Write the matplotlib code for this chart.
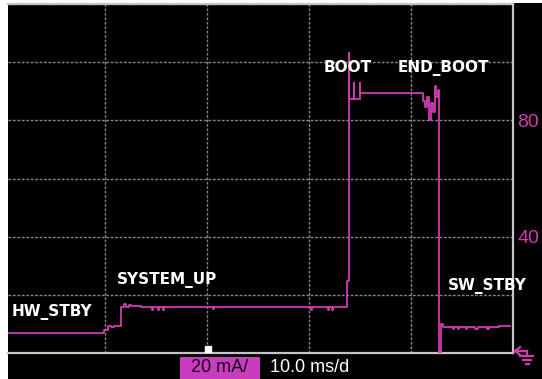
import matplotlib
matplotlib.use("Agg")
import matplotlib.pyplot as plt
from matplotlib.patches import Rectangle
from matplotlib.lines import Line2D

# supply current capture, 10 ms/div, 20 mA/div
time_ms = [0.5, 9.9, 10.3, 10.6, 10.9, 11.57, 11.9, 12.1, 12.4, 12.6, 13.5,
           14.6, 14.7, 15.2, 15.3, 15.7, 15.8, 20.6, 20.7, 30.2, 30.3, 31.9,
           32.0, 32.3, 32.4, 33.73, 33.92, 33.97, 34.4, 34.45, 35.0, 35.05,
           41.18, 41.4, 41.6, 41.8, 42.0, 42.2, 42.35, 42.45, 42.6, 42.78,
           42.95, 43.15, 44.1, 44.2, 44.6, 44.7, 45.4, 45.5, 46.3, 46.6,
           47.5, 47.6, 48.6, 49.7]
current_ma = [6.9, 8.0, 9.4, 8.9, 9.4, 15.8, 16.8, 15.8, 16.6, 16.1, 15.8,
              14.9, 15.8, 14.9, 15.8, 14.9, 15.8, 15.0, 15.8, 14.9, 15.8, 14.9,
              15.8, 14.9, 15.8, 24.8, 103.0, 87.3, 92.8, 87.3, 92.8, 89.4,
              86.5, 84.6, 88.0, 80.1, 86.0, 83.0, 91.8, 88.0, 90.5, 0.0,
              9.8, 8.9, 8.2, 8.9, 8.2, 8.9, 8.2, 8.9, 8.2, 8.9,
              8.2, 8.9, 9.3, 9.3]

states = ["HW_STBY", "SYSTEM_UP", "BOOT", "END_BOOT", "SW_STBY"]
state_t = [0.9, 11.2, 31.4, 38.7, 43.6]
state_ma = [14.0, 25.0, 98.0, 98.0, 23.0]

y_labels = {40: "40", 80: "80"}

pink = "#d03cb0"
grid_c = "#8a828a"
frame_c = "#c9c3c9"

W, H = 542, 379
fig = plt.figure(figsize=(W / 100, H / 100), dpi=100, facecolor="white")

def fx(px):
    return px / W

def fy(py):
    return 1 - py / H

# black screen area
fig.add_artist(Rectangle((fx(8), 0), 1 - fx(8), fy(3), transform=fig.transFigure,
                         facecolor="black", edgecolor="none", zorder=0))

ax = fig.add_axes([fx(8), fy(353), fx(513) - fx(8), fy(4) - fy(353)])
ax.set_facecolor("black")
ax.set_xlim(0.5, 50)
ax.set_ylim(0, 120)
ax.set_xticks([10, 20, 30, 40])
ax.set_xticklabels([])
ax.set_yticks(range(0, 121, 20))
ax.set_yticklabels([y_labels.get(v, "") for v in range(0, 121, 20)])
ax.yaxis.tick_right()
ax.tick_params(axis="both", length=0)
ax.tick_params(axis="y", pad=3, labelcolor=pink, labelsize=14)
for lab in ax.get_yticklabels():
    lab.set_fontfamily("Liberation Sans")
ax.grid(True, color=grid_c, linestyle=(0, (2, 1.2)), linewidth=1.0)
ax.spines["left"].set_visible(False)
for s in ("top", "right", "bottom"):
    ax.spines[s].set_color(frame_c)
    ax.spines[s].set_linewidth(1.6)

ax.plot(time_ms, current_ma, drawstyle="steps-post", color=pink, lw=1.3,
        zorder=3)

for name, t, v in zip(states, state_t, state_ma):
    ax.text(t, v, name, color="white", fontsize=11, fontweight="bold",
            family="DejaVu Sans", va="center", ha="left", zorder=4)

# trigger position marker
ax.plot([20.1], [0.012], marker="s", color="white", ms=5,
        transform=ax.get_xaxis_transform(), clip_on=False, zorder=5)

# ground reference symbol
gnd = [([515, 527], [351, 351]), ([527, 527], [351, 356]),
       ([520, 533], [356, 356]), ([523, 531], [360, 360]),
       ([526, 529], [364, 364]), ([515, 520], [351, 347]),
       ([515, 520], [351, 355])]
for xs, ys in gnd:
    fig.add_artist(Line2D([fx(x) for x in xs], [fy(y) for y in ys],
                          transform=fig.transFigure, color=pink, lw=1.6))

# scale readout
fig.add_artist(Rectangle((fx(180), 0), fx(260) - fx(180), fy(357),
                         transform=fig.transFigure, facecolor="#c83cc0",
                         edgecolor="none"))
fig.text(fx(220), fy(368), "20 mA/", color="#1a001a", fontsize=13,
         family="Liberation Sans", ha="center", va="center")
fig.text(fx(270), fy(368), "10.0 ms/d", color="white", fontsize=13,
         family="Liberation Sans", ha="left", va="center")

fig.savefig("out.png", dpi=100, facecolor="white")
